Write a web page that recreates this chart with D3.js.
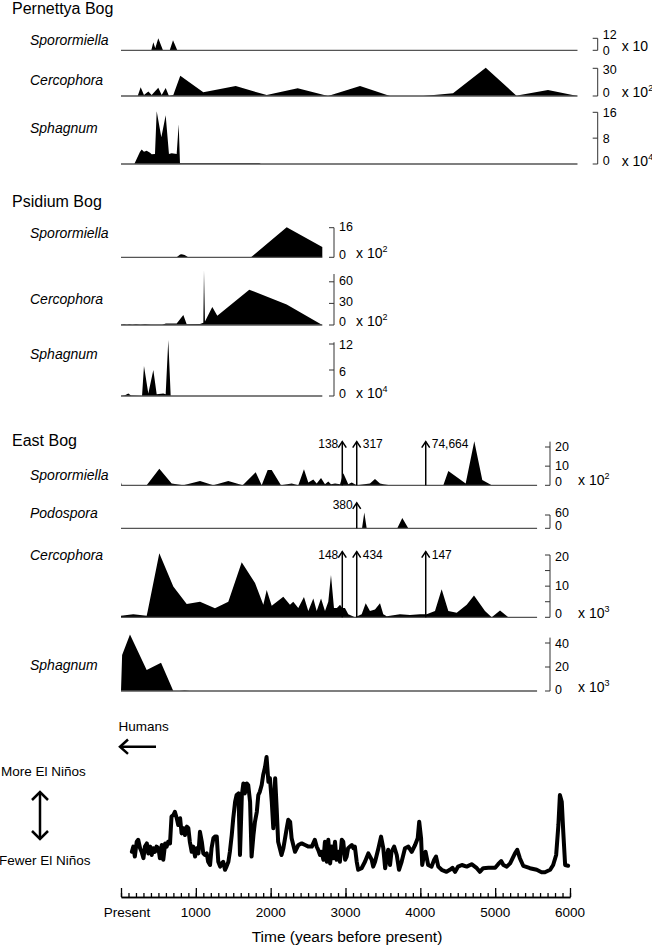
<!DOCTYPE html>
<html><head><meta charset="utf-8">
<script src="https://cdn.jsdelivr.net/npm/d3@7"></script>
<style>
html,body{margin:0;padding:0;background:#fff;}
svg text{font-family:"Liberation Sans",Arial,sans-serif;fill:#000;}
</style></head><body>
<svg id="chart" width="652" height="945"></svg>
<script>
// ================= DATA =================
const timeTicks = [0,1000,2000,3000,4000,5000,6000];
const timeTickLabels = ["Present","1000","2000","3000","4000","5000","6000"];
const siteTitles = ["Pernettya Bog","Psidium Bog","East Bog"];

// Pernettya Bog
const pernSporYears = [0,405,432,458,498,561,651,695,752,6100];
const pernSporVals  = [0,0,8,2,12,0,0,10,0,0];
const pernCercYears = [0,223,263,307,365,410,498,544,597,641,699,792,1100,1533,1947,2361,2766,3194,3595,4036,4437,4874,5288,5332,5706,6100];
const pernCercVals  = [0,0,9.6,1,5,1,8.9,1,8.6,0,1,22,4,10.7,1,8.3,0,10.7,0,0,3,30.7,0,1,6.4,0];
const pernSphaYears = [0,178,254,277,307,343,388,410,454,477,539,597,641,677,744,771,788,800,1850,1870,6100];
const pernSphaVals  = [0,0,3.8,4.5,3.8,4.1,3.5,3.0,3.1,16.3,8.3,15.1,3.1,3.3,3.1,12.3,0.3,0.2,0.2,0,0];

// Psidium Bog
const psidSporYears = [0,744,790,811,850,899,1737,2214,2690,2690];
const psidSporVals  = [0,0,1.5,1.7,1.2,0,0,16.2,5.6,0];
const psidCercYears = [0,40,80,110,150,200,260,320,400,550,600,700,744,833,878,1056,1100,1109,1122,1220,1287,1714,2214,2690];
const psidCercVals  = [0.5,1,0.3,1,0.3,1,0.4,1,0.5,0.5,2,2,2,14,1,1.5,3,76,5,25,13,49,28.6,0];
const psidSphaYears = [0,53,98,134,281,307,365,432,477,565,597,632,664,2690];
const psidSphaVals  = [0,0.2,0.6,0.1,0,6.9,0.6,6,0.4,0.6,0.4,12.9,0,0];

// East Bog
const eastSporYears = [0,10,343,512,677,833,1056,1233,1434,1626,1800,1880,1960,2014,2138,2281,2369,2445,2503,2570,2615,2673,2726,2770,2806,2860,2927,2971,3037,3083,3150,3327,3394,3461,3505,3595,4307,4374,4606,4721,4828,4954,5560];
const eastSporVals  = [1.5,0,0,8.6,1,0,2.3,0,2.3,0,6.8,0,8,8,0,1,0,8.4,1.5,3,1,3.8,0.5,2,0.5,1,0.5,6.3,0.5,1.5,0,1,3.3,1,0.5,0,0,7.5,1,23,2.8,0,0];
const eastSporArrowYears  = [2957,3150,4072];
const eastSporArrowLabels = ["138","317","74,664"];

const eastPodoYears = [0,3221,3251,3283,3692,3759,3839,5560];
const eastPodoVals  = [0,0,71,0,0,47,0,0];
const eastPodoArrowYears  = [3150];
const eastPodoArrowLabels = ["380"];

const eastCercYears = [0,164,343,357,512,699,878,1056,1256,1434,1613,1791,1902,1947,2014,2169,2258,2302,2369,2445,2503,2570,2615,2673,2726,2770,2806,2846,2886,2927,2957,2993,3037,3127,3216,3270,3327,3394,3461,3505,3551,3728,3862,3996,4085,4196,4285,4374,4486,4620,4717,4864,4954,5065,5176,5560];
const eastCercVals  = [0.5,1,0.5,2,20.6,9.9,4.3,5,2.9,5,17.7,11,4,8.8,3.7,6.6,4,5,3,6.5,2,6,2,6,2,5,13.6,3,3,4,3,3,1,0,1,4.5,2,2.5,4.5,1,0.3,1,0.7,1,1,2,9,2,1.5,4,7,2,0,2.2,0,0];
const eastCercArrowYears  = [2957,3150,4072];
const eastCercArrowLabels = ["148","434","147"];

const eastSphaYears = [0,15,120,343,535,699,780,850,920,5560];
const eastSphaVals  = [0,30,47,17.5,23.6,0,0,0.5,0,0];

// ENSO record (relative El Niño frequency)
const ensoYears = [145,165,185,210,230,255,275,300,320,345,365,390,410,430,455,475,500,520,545,565,590,610,630,655,675,700,720,745,765,790,810,835,855,880,900,920,945,965,990,1010,1035,1055,1080,1100,1120,1145,1165,1190,1210,1235,1255,1280,1300,1325,1345,1365,1390,1410,1435,1455,1480,1500,1525,1545,1570,1590,1615,1635,1655,1680,1700,1725,1745,1770,1790,1815,1835,1855,1880,1900,1925,1945,1970,1990,2015,2035,2060,2080,2100,2145,2170,2215,2235,2260,2280,2325,2370,2415,2460,2505,2550,2590,2615,2635,2660,2680,2705,2725,2750,2770,2795,2815,2835,2860,2880,2905,2925,2950,2970,2995,3015,3035,3060,3085,3105,3125,3150,3170,3215,3260,3305,3350,3370,3395,3440,3475,3505,3530,3550,3570,3595,3615,3650,3685,3715,3750,3795,3840,3885,3930,3965,3985,4010,4025,4050,4070,4105,4150,4185,4210,4240,4285,4350,4395,4430,4465,4505,4555,4620,4685,4755,4795,4840,4910,5000,5040,5080,5110,5155,5200,5265,5295,5330,5375,5465,5555,5620,5665,5735,5775,5815,5845,5865,5890,5910,5935,5975];
const ensoVals = [5.8,7.1,4.6,8.3,8.8,6.7,5.8,4.2,7.1,7.9,5.4,7.1,5.0,6.7,5.8,7.1,6.7,4.2,7.5,3.8,7.9,7.1,8.3,7.9,14.6,15.0,15.8,14.2,12.5,14.2,10.4,11.7,10.0,12.1,11.7,8.3,5.8,7.1,4.6,6.7,5.4,10.8,8.3,5.4,5.0,5.4,3.3,2.5,6.7,9.2,9.6,9.6,3.3,2.1,2.9,3.3,1.3,2.1,3.3,5.8,10.0,14.2,18.3,20.0,20.4,5.0,20.0,22.9,20.4,22.9,22.5,18.3,4.6,10.0,13.3,15.8,20.0,20.8,22.5,25.0,27.0,29.5,23.3,24.2,18.3,11.7,24.2,16.8,8.3,5.0,6.7,11.7,13.8,13.3,9.2,5.8,7.5,7.9,7.5,7.1,7.1,8.8,7.1,6.3,5.0,5.8,3.8,8.3,3.3,8.8,2.9,7.1,4.2,8.3,3.8,5.8,3.3,8.8,8.3,3.8,4.6,6.7,7.1,7.5,6.7,7.1,3.3,1.3,1.7,3.3,5.4,3.8,2.1,3.3,6.7,9.6,6.7,1.7,4.2,6.3,2.5,5.8,7.1,5.0,1.3,3.3,6.7,7.1,5.8,7.5,9.2,13.3,9.2,2.5,5.0,5.8,2.5,2.1,3.8,4.6,2.1,1.3,0.8,1.3,1.8,0.8,2.1,2.5,2.1,2.7,1.7,0.8,1.7,1.8,1.8,2.7,3.5,2.5,2.1,2.9,5.4,6.3,4.2,2.3,1.7,1.3,0.7,0.7,1.3,2.5,5.0,12.5,20.0,18.3,10.8,2.5,2.3];

// ================= LAYOUT =================
const svg = d3.select("#chart");
const x = d3.scaleLinear().domain([0,6000]).range([121,570]);

const titleY = [14, 207, 446];
svg.selectAll("text.site").data(siteTitles).join("text")
  .attr("class","site").attr("x",12).attr("y",(d,i)=>titleY[i])
  .attr("font-size",16).text(d=>d);

const panels = [
 {taxon:"Sporormiella", years:pernSporYears, vals:pernSporVals, end:6100, ly:40, base:50.3, sv:12, sy:38.3, brTop:12, ticks:[0,12], labs:[["12",35],["0",50.5]], bx:597.7, mx:621.7, mult:["x 10",""], my:46},
 {taxon:"Cercophora", years:pernCercYears, vals:pernCercVals, end:6100, ly:80, base:96, sv:30, sy:68.3, brTop:30, ticks:[0,30], labs:[["30",70],["0",93]], bx:597.7, mx:621.7, mult:["x 10","2"], my:92},
 {taxon:"Sphagnum", years:pernSphaYears, vals:pernSphaVals, end:6100, ly:128, base:164, sv:16, sy:112.3, brTop:16, ticks:[0,8,16], labs:[["16",113],["8",139],["0",161]], bx:597.7, mx:621.7, mult:["x 10","4"], my:161},

 {taxon:"Sporormiella", years:psidSporYears, vals:psidSporVals, end:2690, ly:233.3, base:257.3, sv:16, sy:227.7, brTop:16, ticks:[0,16], labs:[["16",226.7],["0",255]], bx:334, mx:356, mult:["x 10","2"], my:253},
 {taxon:"Cercophora", years:psidCercYears, vals:psidCercVals, end:2690, ly:299, base:325, sv:60, sy:281.8, brTop:70.8, ticks:[0,30,60], labs:[["60",280.7],["30",301.7],["0",321.7]], bx:334, mx:356, mult:["x 10","2"], my:321},
 {taxon:"Sphagnum", years:psidSphaYears, vals:psidSphaVals, end:2690, ly:354.3, base:396, sv:12, sy:344, brTop:12.4, ticks:[0,6,12], labs:[["12",345],["6",371.7],["0",393.3]], bx:334, mx:356, mult:["x 10","4"], my:393},

 {taxon:"Sporormiella", years:eastSporYears, vals:eastSporVals, end:5560, ly:475, base:485.3, sv:20, sy:447, brTop:22.8, ticks:[0,10,20], labs:[["20",446.7],["10",466],["0",481.7]], bx:550, mx:578, mult:["x 10","2"], my:480,
   arrows:{years:eastSporArrowYears, labels:eastSporArrowLabels, top:22.8, side:["l","r","r"], lyy:443.5}},
 {taxon:"Podospora", years:eastPodoYears, vals:eastPodoVals, end:5560, ly:513.3, base:528.3, sv:60, sy:515, brTop:60, ticks:[0,60], labs:[["60",512.7],["0",526]], bx:550, mx:578, mult:null, my:0,
   arrows:{years:eastPodoArrowYears, labels:eastPodoArrowLabels, top:115, side:["l"], lyy:505}},
 {taxon:"Cercophora", years:eastCercYears, vals:eastCercVals, end:5560, ly:555, base:617.3, sv:20, sy:555, brTop:20, ticks:[0,5,10,15,20], labs:[["20",556.7],["10",585.7],["0",614]], bx:550, mx:578, mult:["x 10","3"], my:613,
   arrows:{years:eastCercArrowYears, labels:eastCercArrowLabels, top:21.1, side:["l","r","r"], lyy:555}},
 {taxon:"Sphagnum", years:eastSphaYears, vals:eastSphaVals, end:5560, ly:665, base:691, sv:40, sy:643, brTop:44.5, ticks:[0,20,40], labs:[["40",643.3],["20",666.7],["0",689.3]], bx:550, mx:578, mult:["x 10","3"], my:687}
];

panels.forEach(p => {
  const y = d3.scaleLinear().domain([0,p.sv]).range([p.base,p.sy]);
  const g = svg.append("g");
  g.append("text").attr("x",30).attr("y",p.ly).attr("dy","0.35em")
    .attr("font-size",14).attr("font-style","italic").text(p.taxon);
  const pts = p.years.map((yr,i)=>[yr,p.vals[i]]);
  const area = d3.area().x(d=>x(d[0])).y0(y(0)).y1(d=>y(d[1]));
  g.append("path").datum(pts).attr("d",area).attr("fill","#000");
  g.append("line").attr("x1",x(0)).attr("x2",x(p.end)).attr("y1",y(0)).attr("y2",y(0))
    .attr("stroke","#555").attr("stroke-width",1.3);
  g.append("line").attr("x1",p.bx).attr("x2",p.bx).attr("y1",y(0)).attr("y2",y(p.brTop))
    .attr("stroke","#333").attr("stroke-width",1);
  g.selectAll("line.tk").data(p.ticks).join("line").attr("class","tk")
    .attr("x1",p.bx-5).attr("x2",p.bx).attr("y1",d=>y(d)).attr("y2",d=>y(d))
    .attr("stroke","#333").attr("stroke-width",1);
  g.selectAll("text.tl").data(p.labs).join("text").attr("class","tl")
    .attr("x",p.bx+5).attr("y",d=>d[1]).attr("dy","0.35em").attr("font-size",12.5).text(d=>d[0]);
  if (p.mult) {
    const t = g.append("text").attr("x",p.mx).attr("y",p.my).attr("dy","0.35em").attr("font-size",14);
    t.append("tspan").text(p.mult[0]);
    if (p.mult[1]) t.append("tspan").attr("dy",-6).attr("font-size",9).text(p.mult[1]);
  }
  if (p.arrows) {
    const a = p.arrows;
    a.years.forEach((yr,i)=>{
      const ax = x(yr), top = y(a.top);
      g.append("line").attr("x1",ax).attr("x2",ax).attr("y1",y(0)).attr("y2",top)
        .attr("stroke","#000").attr("stroke-width",1.5);
      g.append("path").attr("d",`M${ax-4},${top+6}L${ax},${top}L${ax+4},${top+6}`)
        .attr("fill","none").attr("stroke","#000").attr("stroke-width",1.5);
      const left = a.side[i]==="l";
      g.append("text").attr("x", left? ax-4 : ax+6).attr("y",a.lyy).attr("dy","0.35em")
        .attr("text-anchor", left? "end":"start").attr("font-size",12).text(a.labels[i]);
    });
  }
});

// ================= ENSO =================
const ey = d3.scaleLinear().domain([0,30]).range([875,755]);
const ensoPts = ensoYears.map((yr,i)=>[yr,ensoVals[i]]);
svg.append("path").datum(ensoPts)
  .attr("d", d3.line().x(d=>x(d[0])).y(d=>ey(d[1])))
  .attr("fill","none").attr("stroke","#000").attr("stroke-width",4)
  .attr("stroke-linejoin","round").attr("stroke-linecap","round");

svg.append("text").attr("x",118.5).attr("y",726).attr("dy","0.35em").attr("font-size",13.5).text("Humans");
svg.append("line").attr("x1",121).attr("x2",156).attr("y1",746.7).attr("y2",746.7).attr("stroke","#000").attr("stroke-width",2.5);
svg.append("path").attr("d","M128,739.5L120,746.7L128,753.9").attr("fill","none").attr("stroke","#000").attr("stroke-width",2.5);

svg.append("text").attr("x",1).attr("y",771).attr("dy","0.35em").attr("font-size",13.5).text("More El Niños");
svg.append("text").attr("x",-1).attr("y",860).attr("dy","0.35em").attr("font-size",13.5).text("Fewer El Niños");
svg.append("line").attr("x1",40).attr("x2",40).attr("y1",793).attr("y2",838).attr("stroke","#000").attr("stroke-width",2.5);
svg.append("path").attr("d","M32,800L40,792L48,800").attr("fill","none").attr("stroke","#000").attr("stroke-width",2.5);
svg.append("path").attr("d","M32,831L40,839L48,831").attr("fill","none").attr("stroke","#000").attr("stroke-width",2.5);

// ================= TIME AXIS =================
const axY = 897;
svg.append("g").attr("transform",`translate(0,${axY})`)
  .call(d3.axisTop(x).tickValues(d3.range(0,6001,100)).tickSize(4).tickSizeOuter(0).tickFormat(""));
svg.append("g").attr("transform",`translate(0,${axY})`)
  .call(d3.axisTop(x).tickValues(timeTicks).tickSize(9).tickSizeOuter(0).tickFormat(""));
svg.selectAll(".domain").attr("stroke","#000").attr("stroke-width",1.5);
svg.selectAll(".tick line").attr("stroke","#000").attr("stroke-width",1.3);

svg.selectAll("text.tx").data(timeTicks).join("text").attr("class","tx")
  .attr("x",(d,i)=>x(d)+(i===0?6:0)).attr("y",912).attr("dy","0.35em")
  .attr("text-anchor","middle").attr("font-size",13.5).text((d,i)=>timeTickLabels[i]);
svg.append("text").attr("x",347).attr("y",937).attr("dy","0.35em").attr("text-anchor","middle")
  .attr("font-size",15.5).text("Time (years before present)");
</script>
</body></html>
